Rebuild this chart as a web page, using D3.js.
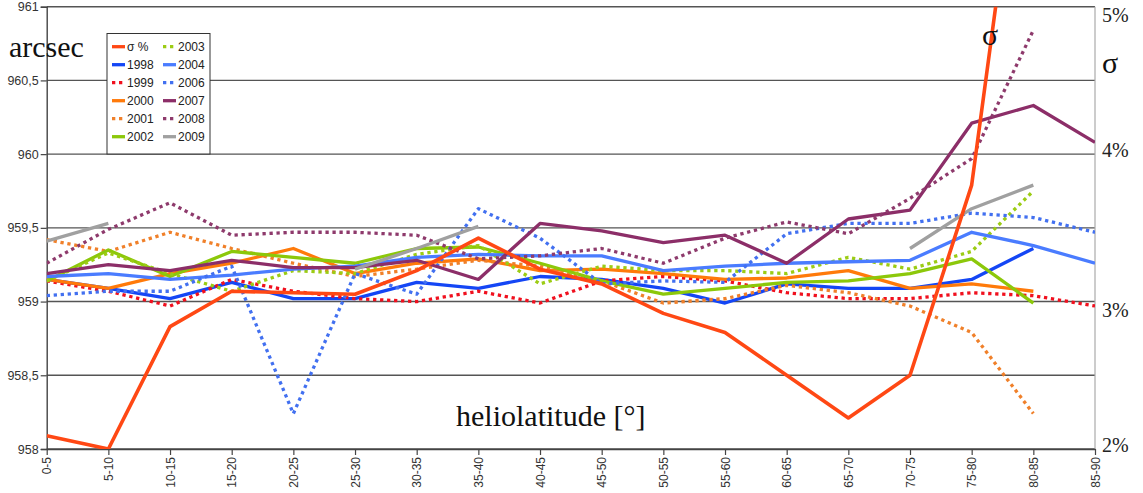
<!DOCTYPE html>
<html><head><meta charset="utf-8">
<script src="https://cdn.jsdelivr.net/npm/d3@7"></script>
<style>body{margin:0;background:#fff}svg{display:block}</style>
</head><body><svg id="c" width="1143" height="493"></svg>
<script>
const categories = ["0-5","5-10","10-15","15-20","20-25","25-30","30-35","35-40","40-45","45-50","50-55","55-60","60-65","65-70","70-75","75-80","80-85","85-90"];
const leftTicks = [958, 958.5, 959, 959.5, 960, 960.5, 961];
const leftTickLabels = ["958","958,5","959","959,5","960","960,5","961"];
const rightTicks = [2, 3, 4, 5];
const rightTickLabels = ["2%","3%","4%","5%"];

// sigma in % (right axis)
const sigma = [2.09,2.00,2.83,3.07,3.06,3.05,3.21,3.43,3.22,3.12,2.92,2.79,2.50,2.21,2.50,3.79,6.9,null];
// arcsec (left axis)
const y1998 = [959.15,959.09,959.02,959.13,959.02,959.02,959.13,959.09,959.17,959.15,959.09,958.99,959.12,959.09,959.09,959.15,959.36,null];
const y1999 = [959.14,959.07,958.97,959.15,959.07,959.02,959.00,959.07,958.99,959.14,959.17,959.14,959.06,959.02,959.02,959.06,959.04,958.97];
const y2000 = [959.15,959.09,959.19,959.26,959.36,959.19,959.26,959.29,959.21,959.22,959.19,959.15,959.16,959.21,959.09,959.12,959.07,null];
const y2001 = [959.42,959.34,959.47,959.36,959.26,959.17,959.22,959.28,959.24,959.14,958.99,959.02,959.11,959.06,958.97,958.79,958.24,null];
const y2002 = [959.14,959.35,959.17,959.34,959.30,959.26,959.36,959.37,959.26,959.14,959.05,959.09,959.13,959.14,959.19,959.29,958.99,null];
const y2003 = [959.14,959.33,959.19,959.07,959.21,959.19,959.32,959.38,959.12,959.24,959.21,959.21,959.19,959.30,959.22,959.34,959.75,null];
const y2004 = [959.17,959.19,959.15,959.18,959.22,959.24,959.30,959.32,959.31,959.31,959.21,959.24,959.26,959.27,959.28,959.47,959.38,959.26];
const y2006 = [959.04,959.07,959.07,959.24,958.24,959.19,959.05,959.63,959.43,959.12,959.14,959.13,959.46,959.53,959.53,959.60,959.57,959.47];
const y2007 = [959.19,959.25,959.21,959.28,959.23,959.23,959.28,959.15,959.53,959.48,959.40,959.45,959.26,959.56,959.62,960.21,960.33,960.08];
const y2008 = [959.26,959.49,959.67,959.45,959.47,959.47,959.45,959.29,959.31,959.36,959.26,959.43,959.54,959.46,959.70,959.97,960.84,null];
const y2009 = [959.41,959.53,null,null,null,959.22,959.36,959.51,null,null,null,null,null,null,959.36,959.63,959.79,null];

const series = [
  {name:"σ %", data:sigma, color:"#ff4814", dotted:false, right:true},
  {name:"1998", data:y1998, color:"#1446f5", dotted:false},
  {name:"1999", data:y1999, color:"#f0101e", dotted:true},
  {name:"2000", data:y2000, color:"#ff7a0a", dotted:false},
  {name:"2001", data:y2001, color:"#f0802a", dotted:true},
  {name:"2002", data:y2002, color:"#8cc80a", dotted:false},
  {name:"2003", data:y2003, color:"#9ccc14", dotted:true},
  {name:"2004", data:y2004, color:"#4a7cff", dotted:false},
  {name:"2006", data:y2006, color:"#4270f0", dotted:true},
  {name:"2007", data:y2007, color:"#8c2e68", dotted:false},
  {name:"2008", data:y2008, color:"#8e3a6c", dotted:true},
  {name:"2009", data:y2009, color:"#a0a0a0", dotted:false}
];

const svg = d3.select("#c");
const L = 46.7, R = 1095, T = 6.7, B = 449;
const x = d3.scalePoint().domain(categories).range([L, R]);
const y = d3.scaleLinear().domain([958, 961]).range([B, T]);
const yR = d3.scaleLinear().domain([2, 5]).range([B, T]);
const sans = "'Liberation Sans', Arial, sans-serif";
const serif = "'Liberation Serif', 'Times New Roman', serif";

svg.append("defs").append("clipPath").attr("id","plot")
  .append("rect").attr("x", L).attr("y", T).attr("width", R - L).attr("height", B - T);

// gridlines
svg.append("g").selectAll("line").data(leftTicks).join("line")
  .attr("x1", L).attr("x2", R).attr("y1", d => y(d)).attr("y2", d => y(d))
  .attr("stroke", "#555").attr("stroke-width", 1.4);

// right border
svg.append("line").attr("x1", R).attr("x2", R).attr("y1", T).attr("y2", B)
  .attr("stroke", "#aaa").attr("stroke-width", 1.2);

// left axis
const gL = svg.append("g").attr("transform", `translate(${L},0)`)
  .call(d3.axisLeft(y).tickValues(leftTicks).tickSize(6).tickPadding(2)
    .tickFormat((d, i) => leftTickLabels[i]));
gL.select(".domain").attr("stroke", "#444").attr("stroke-width", 1.4);
gL.selectAll(".tick line").attr("stroke", "#444").attr("stroke-width", 1.2);
gL.selectAll("text").attr("font-family", sans).attr("font-size", 12.5).attr("fill", "#333");

// bottom axis
const gB = svg.append("g").attr("transform", `translate(0,${B})`)
  .call(d3.axisBottom(x).tickSize(6).tickSizeOuter(0));
gB.select(".domain").attr("stroke", "#444").attr("stroke-width", 1.4);
gB.selectAll(".tick line").attr("stroke", "#444").attr("stroke-width", 1.2);
gB.selectAll("text").attr("font-family", sans).attr("font-size", 12).attr("fill", "#333")
  .attr("transform", "rotate(-90)").attr("text-anchor", "end")
  .attr("x", -8).attr("y", 0).attr("dy", "0.35em");

// right axis labels
const gR = svg.append("g").attr("transform", `translate(${R},0)`)
  .call(d3.axisRight(yR).tickValues(rightTicks).tickSize(0).tickPadding(7)
    .tickFormat((d, i) => rightTickLabels[i]));
gR.select(".domain").remove();
gR.selectAll("text").attr("font-family", serif).attr("font-size", 20).attr("fill", "#222")
  .attr("dy", (d) => d === 5 ? "0.75em" : d === 3 ? "0.75em" : "0.1em");

// lines
const gLines = svg.append("g").attr("clip-path", "url(#plot)");
const ordered = series.slice(1).concat([series[0]]);
ordered.forEach(s => {
  const sc = s.right ? yR : y;
  const line = d3.line().defined(d => d != null)
    .x((d, i) => x(categories[i])).y(d => sc(d));
  gLines.append("path").datum(s.data)
    .attr("d", line).attr("fill", "none")
    .attr("stroke", s.color)
    .attr("stroke-width", s.right ? 3.6 : 3.3)
    .attr("stroke-linejoin", "round")
    .attr("stroke-dasharray", s.dotted ? "3.3,3.7" : null);
});

// texts
svg.append("text").attr("x", 9).attr("y", 57).text("arcsec")
  .attr("font-family", serif).attr("font-size", 30).attr("fill", "#111");
svg.append("text").attr("x", 456).attr("y", 426).text("heliolatitude [°]")
  .attr("font-family", serif).attr("font-size", 30).attr("fill", "#111");
svg.append("text").attr("x", 982).attr("y", 45).text("σ")
  .attr("font-family", serif).attr("font-size", 30).attr("fill", "#111");
svg.append("text").attr("x", 1102).attr("y", 73).text("σ")
  .attr("font-family", serif).attr("font-size", 30).attr("fill", "#111");

// legend
const lg = svg.append("g");
lg.append("rect").attr("x", 107).attr("y", 33.5).attr("width", 103).attr("height", 120.5)
  .attr("fill", "#fff").attr("stroke", "#333").attr("stroke-width", 1);
series.forEach((s, i) => {
  const col = Math.floor(i / 6), row = i % 6;
  const sx = 112 + col * 51, sy = 46.7 + row * 18;
  lg.append("line").attr("x1", sx).attr("x2", sx + 13).attr("y1", sy).attr("y2", sy)
    .attr("stroke", s.color).attr("stroke-width", 3.3)
    .attr("stroke-dasharray", s.dotted ? "3.3,3.7" : null);
  lg.append("text").attr("x", sx + 15).attr("y", sy).attr("dy", "0.36em").text(s.name)
    .attr("font-family", sans).attr("font-size", 12).attr("fill", "#222");
});
</script></body></html>
